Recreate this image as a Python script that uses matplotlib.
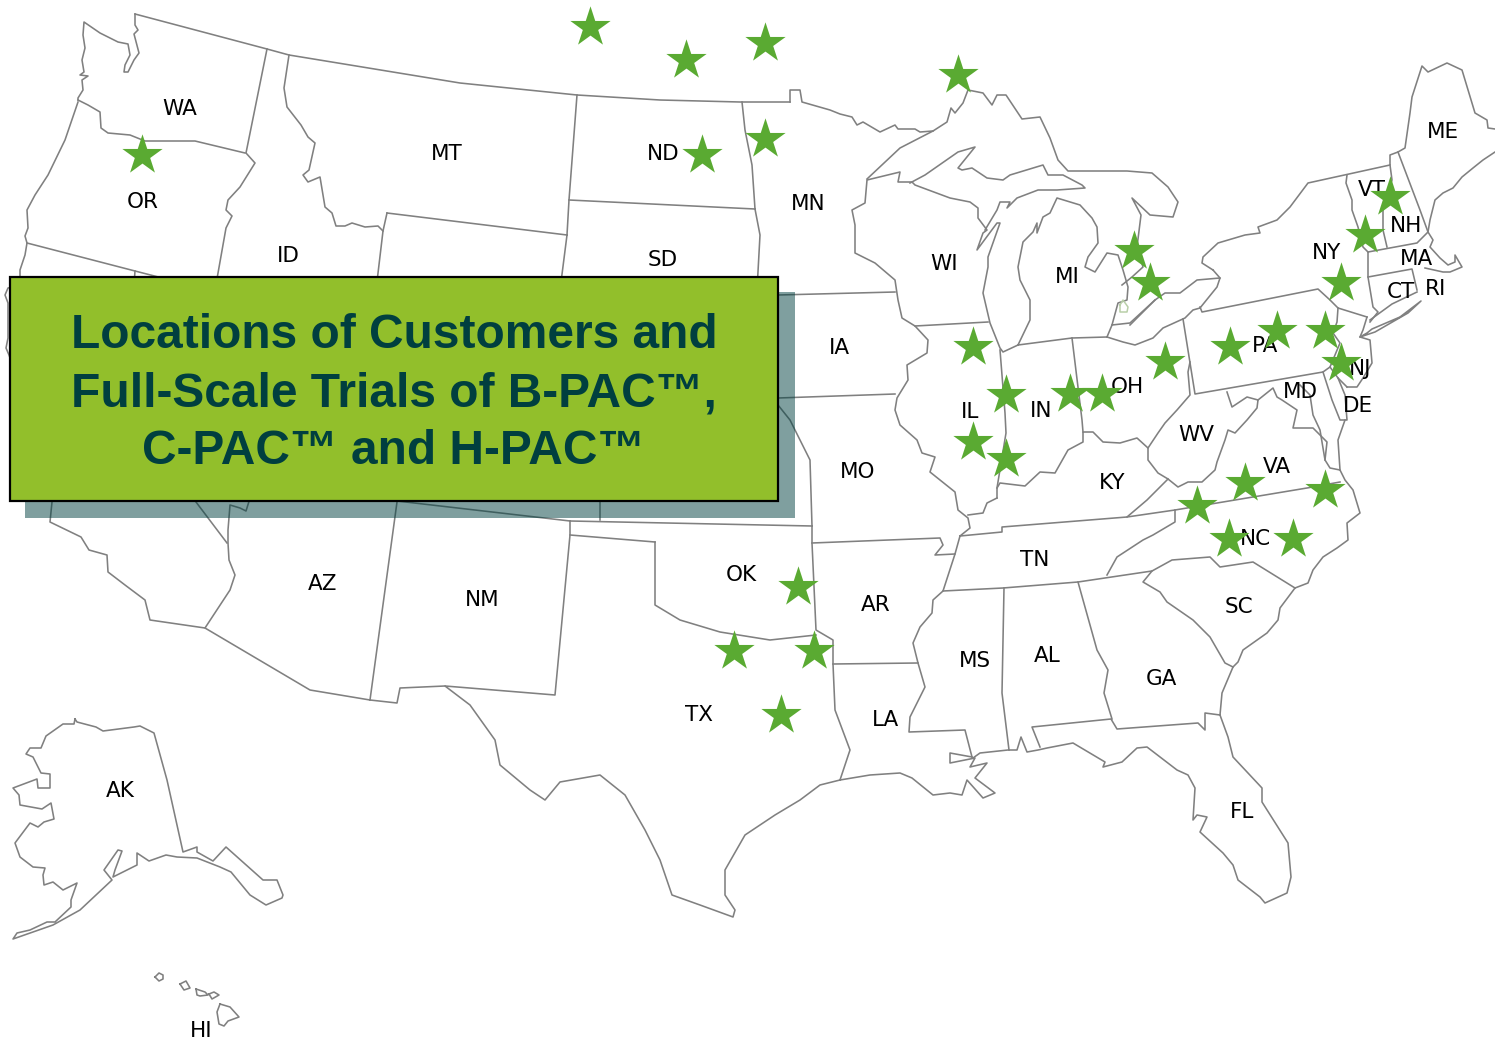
import matplotlib
matplotlib.use("Agg")
import matplotlib.pyplot as plt
from matplotlib.patches import Rectangle

#=================================DATA=========================================#

state_names = ["WA","OR","MT","ID","ND","SD","MN","WI","MI","IA","IL","IN","OH","MO","KY","WV","VA","NC","TN","SC",
               "GA","AL","MS","AR","LA","OK","TX","NM","AZ","AK","HI","FL","ME","VT","NH","NY","MA","CT","RI","PA","NJ","MD","DE"]
state_x = [180,143,447,288,663,663,808,944,1067,839,970,1041,1127,858,1112,1196,1277,1255,1035,1239,
           1161,1047,975,876,885,741,699,482,323,120,201,1242,1443,1372,1406,1326,1416,1401,1436,1265,1360,1300,1358]
state_y = [109,202,154,256,154,260,204,264,277,348,412,411,387,472,483,435,467,539,560,607,
           679,656,661,605,720,575,715,600,584,791,1031,812,132,190,226,253,259,292,289,346,369,392,406]

star_x = [590,686,765,958,765,702,142,1134,1150,973,1006,973,1006,1070,1102,1165,
          1230,1277,1325,1341,1341,1365,1390,1245,1197,1325,1229,1293,798,734,814,781]
star_y = [27,60,43,75,139,155,155,251,283,347,395,442,459,394,394,362,
          347,331,331,363,283,235,197,483,506,490,539,539,587,651,651,715]

title_lines = ["Locations of Customers and", "Full-Scale Trials of B-PAC™,", "C-PAC™ and H-PAC™"]

# outlines, pixel coordinates
wa_coast = [(135,14),(135,25),(138,30),(134,34),(139,53),(134,60),(128,72),(124,72),(125,65),(130,55),(128,44),(118,42),(100,33),
            (84,22),(83,35),(85,48),(82,60),(84,72),(80,75),(88,76),(82,80),(83,90),(78,98),(78,100)]
wa_north = [(135,14),(267,49),(289,55),(460,83),(577,95),(660,100),(740,102),(790,102)]
wa_or = [(78,100),(88,105),(100,112),(101,128),(108,133),(130,135),(145,141),(170,141),(195,141),(245,153)]
or_coast = [(78,102),(65,140),(48,175),(35,195),(27,210),(28,228),(25,236),(27,243),(25,255),(20,270),(20,285),(8,288),(5,295),(8,303),(8,338),(6,348),(9,355),(25,400)]
ca_coast = [(50,490),(52,502),(50,522),(81,537),(89,550),(107,555),(108,572),(125,585),(145,600),(150,620),(205,628)]
wa_id = [(267,49),(246,153),(255,163),(240,187),(228,200),(226,210),(232,216),(226,228),(215,290)]
or_south = [(27,243),(135,271),(170,280)]
or_nv_tick = [(135,271),(134,285)]
id_mt = [(289,55),(284,88),(287,107),(301,125),(308,137),(315,143),(309,170),(303,175),(308,182),(320,177),(323,195),(325,207),
         (332,213),(336,226),(345,226),(352,223),(365,227),(378,226),(383,231)]
wy_west = [(387,213),(383,231),(376,290)]
wy_top = [(387,213),(567,235)]
wy_east = [(567,235),(560,290)]
mt_east = [(577,95),(569,200),(567,235)]
nd_south = [(569,200),(755,209)]
sd_east = [(755,209),(760,235),(757,290)]
nd_east = [(742,102),(745,130),(752,165),(755,209)]
mn_north = [(790,102),(790,90),(800,90),(802,102),(830,110),(840,114),(852,117),(857,125),(863,122),(880,132),(895,125),(898,129),
            (915,129),(920,132),(933,131),(947,122),(951,108),(955,113),(963,103),(968,90)]
superior_w = [(933,131),(900,148),(867,179)]
canada_shore = [(968,90),(983,93),(992,105),(997,95),(1006,95),(1022,119),(1040,117),(1050,138),(1058,160),(1068,171),(1127,171),(1152,173),
                (1168,187),(1178,202),(1173,217),(1150,215),(1132,198),(1141,215),(1137,247),(1143,267),(1132,277),(1122,285)]
erie_north = [(1130,325),(1155,300),(1165,293),(1180,293),(1197,280),(1220,278),(1217,287),(1200,308)]
ontario = [(1213,270),(1202,263),(1203,257),(1218,243),(1245,235),(1260,233),(1258,227),(1277,220),(1290,207),(1308,183),(1390,165),
           (1390,155),(1398,152),(1405,148),(1410,113),(1412,97),(1422,66),(1428,72),(1447,63),(1462,70),(1475,113),(1487,120),(1488,128),(1495,129)]
ontario_link = [(1220,278),(1213,270)]
me_coast = [(1495,152),(1483,160),(1473,168),(1462,177),(1453,188),(1443,193),(1435,200),(1430,220),(1428,232),(1433,240),(1430,247),
            (1440,258),(1448,265),(1455,262),(1455,255),(1462,267),(1450,272),(1443,272),(1425,268)]
me_nh = [(1398,152),(1420,210),(1428,232),(1417,243),(1368,252),(1368,277),(1373,307),(1378,312),(1370,322)]
ma_south = [(1368,277),(1412,269),(1417,290)]
vt_west = [(1347,175),(1346,183),(1352,200),(1352,210),(1358,227),(1363,247),(1368,252)]
vt_east = [(1390,165),(1392,180),(1383,210),(1383,230),(1387,247)]
ct_coast = [(1370,320),(1392,304),(1417,292)]
long_island = [(1360,337),(1367,333),(1372,329),(1400,317),(1421,301),(1408,313),(1375,332),(1363,336)]
ny_pa = [(1200,307),(1202,312),(1318,289),(1330,300),(1338,308),(1367,317)]
nj_east = [(1367,317),(1363,330),(1360,337),(1370,340),(1372,363),(1363,378),(1357,387),(1347,387)]
nj_west = [(1338,308),(1337,322),(1333,333),(1340,343),(1330,367),(1338,378),(1347,387)]
pa_west = [(1183,319),(1195,394),(1323,372),(1330,367)]
erie_south = [(1107,337),(1123,342),(1135,345),(1153,338),(1163,328),(1185,318),(1193,310),(1200,308)]
mi_lower = [(1107,337),(1112,325),(1118,303),(1127,300),(1128,287),(1123,270),(1118,255),(1107,253),(1095,272),(1085,267),(1088,257),
            (1098,243),(1097,227),(1092,218),(1080,205),(1057,198),(1050,213),(1043,217),(1037,233),(1037,223),(1033,232),(1023,242),
            (1018,267),(1020,280),(1030,300),(1030,320),(1018,345)]
mi_erie = [(1112,325),(1130,323),(1155,300)]
lake_mich = [(1018,345),(1003,352),(1000,348),(990,323),(983,293),(988,267),(988,257),(1000,223),(997,223),(977,250),(983,233),(987,230),
             (978,218),(978,208),(970,202),(950,198),(915,185),(912,182),(898,182),(900,172),(867,180),(865,203),(852,210),(855,225),
             (855,253),(875,263),(895,280),(898,300),(902,318),(915,326),(928,340),(927,353),(907,365),(908,380),(897,398),(895,410),
             (900,425),(917,440),(922,453),(935,457),(930,472),(955,492),(958,510),(968,518),(970,528),(960,536)]
mi_upper = [(910,183),(925,175),(958,152),(975,147),(958,168),(962,170),(972,168),(987,178),(1003,180),(1010,175),(1043,165),(1048,175),
            (1063,175),(1082,185),(1085,188),(1057,190),(1038,190),(1017,198),(1007,208),(1010,202),(1000,202),(997,210),(985,230)]
ia_north = [(778,295),(895,292)]
ia_south = [(778,398),(895,394)]
il_north = [(915,326),(988,322)]
il_in = [(1000,350),(1005,413),(1006,433),(997,488),(997,498)]
in_north = [(1018,345),(1072,338),(1107,337)]
in_oh = [(1072,338),(1082,420),(1083,432)]
ohio_river = [(997,488),(1000,483),(1025,486),(1040,472),(1055,473),(1068,450),(1083,442),(1083,432),(1093,432),(1103,442),(1120,443),
              (1137,438),(1148,448),(1158,433),(1165,423),(1177,410),(1190,395),(1188,372),(1190,362)]
ky_west = [(968,515),(983,513),(987,503),(997,498)]
wv_va = [(1148,448),(1148,460),(1158,473),(1168,479),(1178,487),(1188,482),(1202,482),(1215,470),(1217,462),(1225,440),(1228,430),
         (1235,433),(1247,420),(1257,408),(1258,400),(1247,397),(1232,407),(1227,392)]
potomac = [(1258,400),(1273,388),(1277,397),(1282,400),(1297,410),(1293,428),(1313,428),(1327,442),(1325,460),(1330,468),(1340,470),
           (1345,480),(1353,490),(1360,513),(1347,523),(1348,540),(1337,548),(1323,557),(1313,570),(1308,583),(1295,588)]
delaware = [(1323,372),(1332,400),(1340,420),(1347,420),(1345,395),(1338,378)]
chesapeake = [(1300,385),(1310,395),(1313,415),(1320,430),(1325,460)]
east_shore = [(1345,420),(1338,440),(1340,470)]
tn_north = [(960,536),(1002,532),(1002,527),(1127,517),(1175,510),(1307,488),(1340,482)]
va_ky = [(1127,517),(1147,500),(1168,479)]
nc_west = [(1175,510),(1175,522),(1153,535),(1143,540),(1117,557),(1107,575)]
tn_south = [(943,591),(1003,588),(1078,582),(1152,571),(1172,560),(1210,557),(1220,567),(1253,562),(1295,588)]
sc_ga = [(1152,571),(1143,582),(1160,592),(1167,602),(1193,620),(1210,637),(1225,663),(1233,667)]
sc_coast = [(1295,588),(1280,608),(1278,620),(1267,633),(1243,650),(1238,662),(1233,667),(1222,693),(1220,715)]
fl_north = [(1220,715),(1205,713),(1205,730),(1198,723),(1117,729),(1111,719),(1032,727),(1040,747)]
fl_coast = [(1220,715),(1228,737),(1233,757),(1262,788),(1262,802),(1288,843),(1291,877),(1287,893),(1265,903),(1260,897),(1238,880),
            (1233,865),(1223,853),(1200,832),(1207,817),(1197,815),(1193,820),(1195,788),(1188,775),(1177,770),(1147,747),(1137,748),
            (1122,762),(1103,767),(1105,762),(1073,743),(1047,748),(1038,750),(1027,752),(1021,737),(1017,750),(1008,750),(980,753),(973,758)]
ga_al = [(1078,582),(1097,650),(1108,670),(1104,693),(1112,719)]
ms_al = [(1004,588),(1002,693),(1009,750)]
ms_west = [(955,554),(943,591),(933,600),(932,613),(920,627),(913,643),(918,663),(925,687),(910,717),(909,732),(965,730),(972,757)]
la_coast = [(840,780),(870,775),(900,773),(912,778),(933,795),(950,793),(962,795),(967,780),(983,798),(995,793),(975,778),(987,763),
            (970,767),(975,758),(950,763),(950,753),(972,757)]
la_north = [(918,663),(833,664)]
mo_south = [(812,543),(940,538),(943,545),(935,555),(955,554),(960,536)]
ok_east = [(812,526),(812,543),(816,630),(833,640),(833,664),(835,710),(850,750),(840,780)]
ok_south = [(655,542),(655,605),(680,620),(720,632),(770,640),(816,635)]
ok_top = [(570,535),(655,542)]
ks_south = [(570,521),(812,526)]
co_line = [(600,490),(600,520)]
mo_west = [(778,405),(790,420),(800,440),(810,460),(812,526)]
tx_panhandle = [(570,521),(570,535),(555,695),(445,686),(470,705),(495,740),(500,765),(530,790),(545,800),(560,782),(600,775),(625,795),
                (645,830),(660,860),(672,895),(700,905),(733,917),(735,910),(725,895),(725,870),(745,835),(775,815),(800,800),(820,785),(840,780)]
nm_south = [(370,700),(397,703),(400,688),(445,686)]
nm_north = [(380,490),(397,501),(570,521)]
nm_west = [(400,480),(370,700)]
az_south = [(370,700),(310,690),(205,628),(230,590),(235,575),(229,560),(228,543),(228,530),(230,505),(240,508),(246,511),(251,495)]
nv_ca = [(185,490),(196,502),(227,543)]
ak = [(75,719),(77,722),(96,727),(103,731),(134,727),(140,726),(154,733),(167,780),(183,852),(197,847),(197,852),(213,861),(226,847),
      (263,880),(277,880),(283,895),(282,898),(266,905),(250,895),(231,872),(220,867),(197,858),(177,857),(166,855),(149,861),(137,853),
      (137,865),(113,877),(115,870),(122,851),(118,850),(104,870),(112,880),(80,910),(53,925),(13,939),(17,933),(30,930),(47,922),
      (55,922),(71,907),(71,900),(77,883),(63,890),(53,882),(44,885),(43,875),(45,868),(33,867),(20,857),(15,843),(30,823),(38,827),
      (44,822),(54,819),(51,803),(42,809),(20,805),(19,795),(13,788),(37,779),(38,788),(50,788),(50,774),(41,773),(33,757),(26,754),
      (30,748),(41,748),(46,736),(63,724),(74,724),(75,719)]
hi1 = [(155,977),(159,973),(163,975),(163,979),(159,981),(155,977)]
hi2 = [(180,984),(186,981),(190,988),(184,990),(180,984)]
hi3 = [(196,989),(205,992),(208,995),(200,996),(197,995),(196,989)]
hi4 = [(209,994),(214,992),(219,995),(212,999),(209,994)]
hi5 = [(220,1004),(230,1007),(239,1017),(228,1021),(224,1026),(219,1024),(217,1012),(220,1004)]
lake_shape = [(1120,305),(1123,300),(1128,307),(1127,312),(1120,312),(1120,305)]

outlines = [wa_coast,wa_north,wa_or,or_coast,ca_coast,wa_id,or_south,or_nv_tick,id_mt,wy_west,wy_top,wy_east,mt_east,nd_south,sd_east,nd_east,
            mn_north,superior_w,canada_shore,erie_north,ontario,ontario_link,me_coast,me_nh,ma_south,vt_west,vt_east,ct_coast,long_island,
            ny_pa,nj_east,nj_west,pa_west,erie_south,mi_lower,mi_erie,lake_mich,mi_upper,ia_north,ia_south,il_north,il_in,in_north,in_oh,
            ohio_river,ky_west,wv_va,potomac,delaware,chesapeake,east_shore,tn_north,va_ky,nc_west,tn_south,sc_ga,sc_coast,fl_north,fl_coast,
            ga_al,ms_al,ms_west,la_coast,la_north,mo_south,ok_east,ok_south,ok_top,ks_south,co_line,mo_west,tx_panhandle,nm_south,nm_north,
            nm_west,az_south,nv_ca,ak,hi1,hi2,hi3,hi4,hi5]

#==================================PLOT========================================#

fig = plt.figure(figsize=(14.95, 10.39), dpi=100)
ax = fig.add_axes([0, 0, 1, 1])
ax.set_xlim(0, 1495)
ax.set_ylim(1039, 0)
ax.axis("off")

for line in outlines:
    ax.plot([p[0] for p in line], [p[1] for p in line], color="#808080", lw=1.15, zorder=1, solid_joinstyle="round")
ax.plot([p[0] for p in lake_shape], [p[1] for p in lake_shape], color="#b9cfa8", lw=1.1, zorder=1)

for name, x, y in zip(state_names, state_x, state_y):
    ax.text(x, y, name, fontsize=15.5, ha="center", va="center", color="black", family="DejaVu Sans", zorder=2)

ax.scatter(star_x, star_y, marker="*", s=30.5**2, color="#5aaa32", linewidths=0, zorder=3)

# title box with its shadow, the map shows through the shadow
ax.add_patch(Rectangle((25, 292), 770, 226, facecolor="#004040", alpha=0.5, edgecolor="none", zorder=4))
ax.add_patch(Rectangle((10, 277), 768, 224, facecolor="#92bf2b", edgecolor="black", lw=1.6, zorder=5))
for txt, y in zip(title_lines, [336, 394, 452]):
    ax.text(394, y, txt, fontsize=34.5, fontweight="bold", family="Liberation Sans", color="#003f3f",
            ha="center", va="center", zorder=6)

fig.savefig("out.png", dpi=100)
